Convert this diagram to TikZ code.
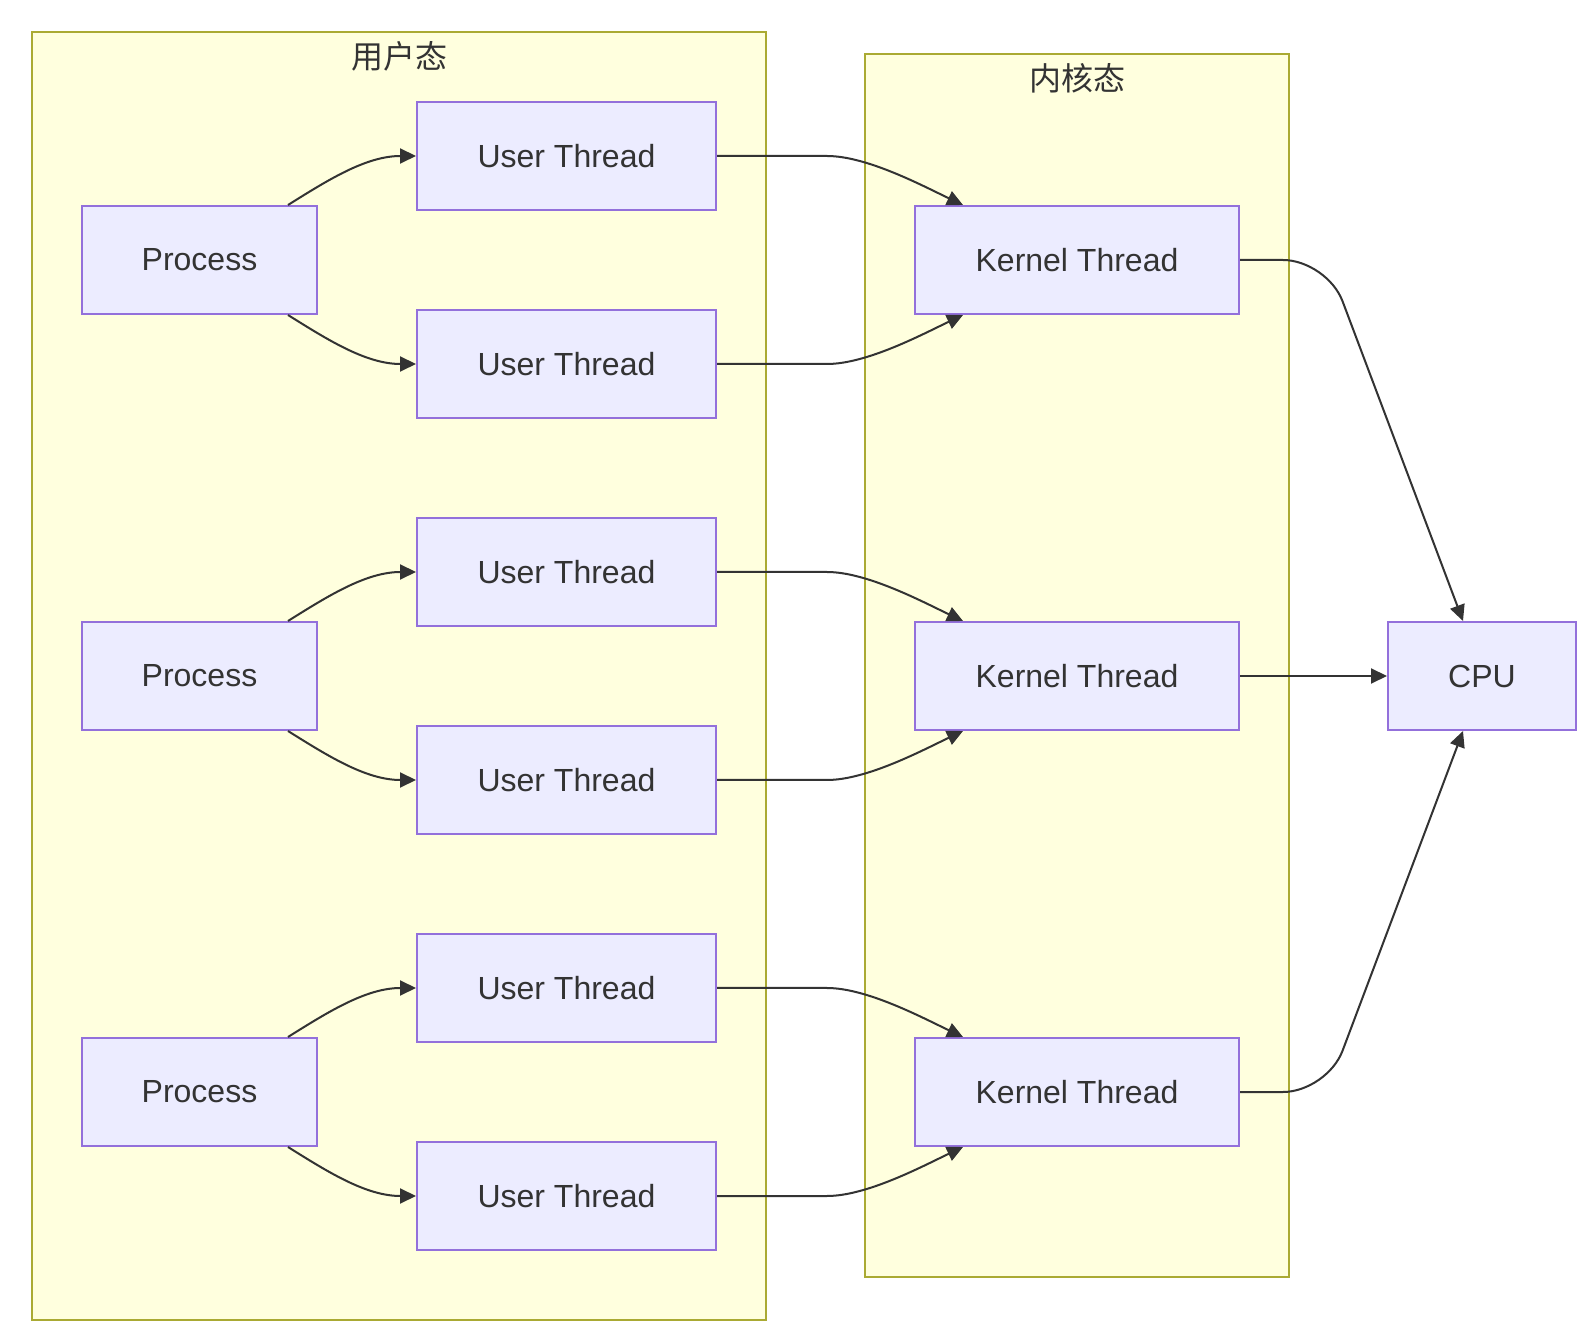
\documentclass[tikz,border=0pt]{standalone}
\usepackage{fontspec}
\setmainfont{Liberation Sans}
\newfontfamily\cjk{Noto Sans CJK SC}
\usetikzlibrary{arrows.meta}
\definecolor{boxfill}{HTML}{ECECFF}
\definecolor{boxline}{HTML}{9370DB}
\definecolor{clusterfill}{HTML}{FFFFDE}
\definecolor{clusterline}{HTML}{AAAA33}
\definecolor{ink}{HTML}{333333}

\begin{document}
\begin{tikzpicture}[x=0.5pt,y=-0.5pt,
    box/.style={draw=boxline,fill=boxfill,line width=1pt,minimum height=54pt,inner sep=0pt,text=ink,font=\fontsize{16}{19}\selectfont},
    cluster/.style={draw=clusterline,fill=clusterfill,line width=1pt},
    title/.style={text=ink,font=\cjk\fontsize{16}{19}\selectfont},
    edge/.style={draw=ink,line width=1pt,-{Triangle[length=8pt,width=7.5pt]}}]
        \path[fill=white,use as bounding box] (0,0) rectangle (1592,1336);
        % the two groups
        \draw[cluster] (32,32) rectangle (766,1320);
        \node[title] (usertitle) at (399,56) {用户态};
        \draw[cluster] (865,54) rectangle (1289,1277);
        \node[title] (kerneltitle) at (1077,78) {内核态};
        % processes
        \node[box,minimum width=117.5pt] (p1) at (199.5,260) {Process};
        \node[box,minimum width=117.5pt] (p2) at (199.5,676) {Process};
        \node[box,minimum width=117.5pt] (p3) at (199.5,1092) {Process};
        % user threads
        \node[box,minimum width=149.5pt] (ut1) at (566.5,156) {User Thread};
        \node[box,minimum width=149.5pt] (ut2) at (566.5,364) {User Thread};
        \node[box,minimum width=149.5pt] (ut3) at (566.5,572) {User Thread};
        \node[box,minimum width=149.5pt] (ut4) at (566.5,780) {User Thread};
        \node[box,minimum width=149.5pt] (ut5) at (566.5,988) {User Thread};
        \node[box,minimum width=149.5pt] (ut6) at (566.5,1196) {User Thread};
        % kernel threads and cpu
        \node[box,minimum width=162pt] (kt1) at (1077,260) {Kernel Thread};
        \node[box,minimum width=162pt] (kt2) at (1077,676) {Kernel Thread};
        \node[box,minimum width=162pt] (kt3) at (1077,1092) {Kernel Thread};
        \node[box,minimum width=94pt] (cpu) at (1482,676) {CPU};
        \coordinate (bendtop) at (1327,260);
        \coordinate (bendbot) at (1327,1092);
        % process -> user thread
        \draw[edge] ([xshift=44.25pt]p1.north) .. controls +(40,-25) and +(-50,0) .. (ut1.west);
        \draw[edge] ([xshift=44.25pt]p1.south) .. controls +(40,25) and +(-50,0) .. (ut2.west);
        \draw[edge] ([xshift=44.25pt]p2.north) .. controls +(40,-25) and +(-50,0) .. (ut3.west);
        \draw[edge] ([xshift=44.25pt]p2.south) .. controls +(40,25) and +(-50,0) .. (ut4.west);
        \draw[edge] ([xshift=44.25pt]p3.north) .. controls +(40,-25) and +(-50,0) .. (ut5.west);
        \draw[edge] ([xshift=44.25pt]p3.south) .. controls +(40,25) and +(-50,0) .. (ut6.west);
        % user thread -> kernel thread
        \draw[edge] (ut1.east) -- ++(110,0) .. controls +(40,0) and +(-40,-19) .. ([xshift=-57pt]kt1.north);
        \draw[edge] (ut2.east) -- ++(110,0) .. controls +(40,0) and +(-40,19) .. ([xshift=-57pt]kt1.south);
        \draw[edge] (ut3.east) -- ++(110,0) .. controls +(40,0) and +(-40,-19) .. ([xshift=-57pt]kt2.north);
        \draw[edge] (ut4.east) -- ++(110,0) .. controls +(40,0) and +(-40,19) .. ([xshift=-57pt]kt2.south);
        \draw[edge] (ut5.east) -- ++(110,0) .. controls +(40,0) and +(-40,-19) .. ([xshift=-57pt]kt3.north);
        \draw[edge] (ut6.east) -- ++(110,0) .. controls +(40,0) and +(-40,19) .. ([xshift=-57pt]kt3.south);
        % kernel thread -> cpu
        \draw[edge,rounded corners=22pt] (kt1.east) -- (bendtop) -- ([xshift=-9.5pt]cpu.north);
        \draw[edge] (kt2.east) -- (cpu.west);
        \draw[edge,rounded corners=22pt] (kt3.east) -- (bendbot) -- ([xshift=-9.5pt]cpu.south);
      \end{tikzpicture}
\end{document}
